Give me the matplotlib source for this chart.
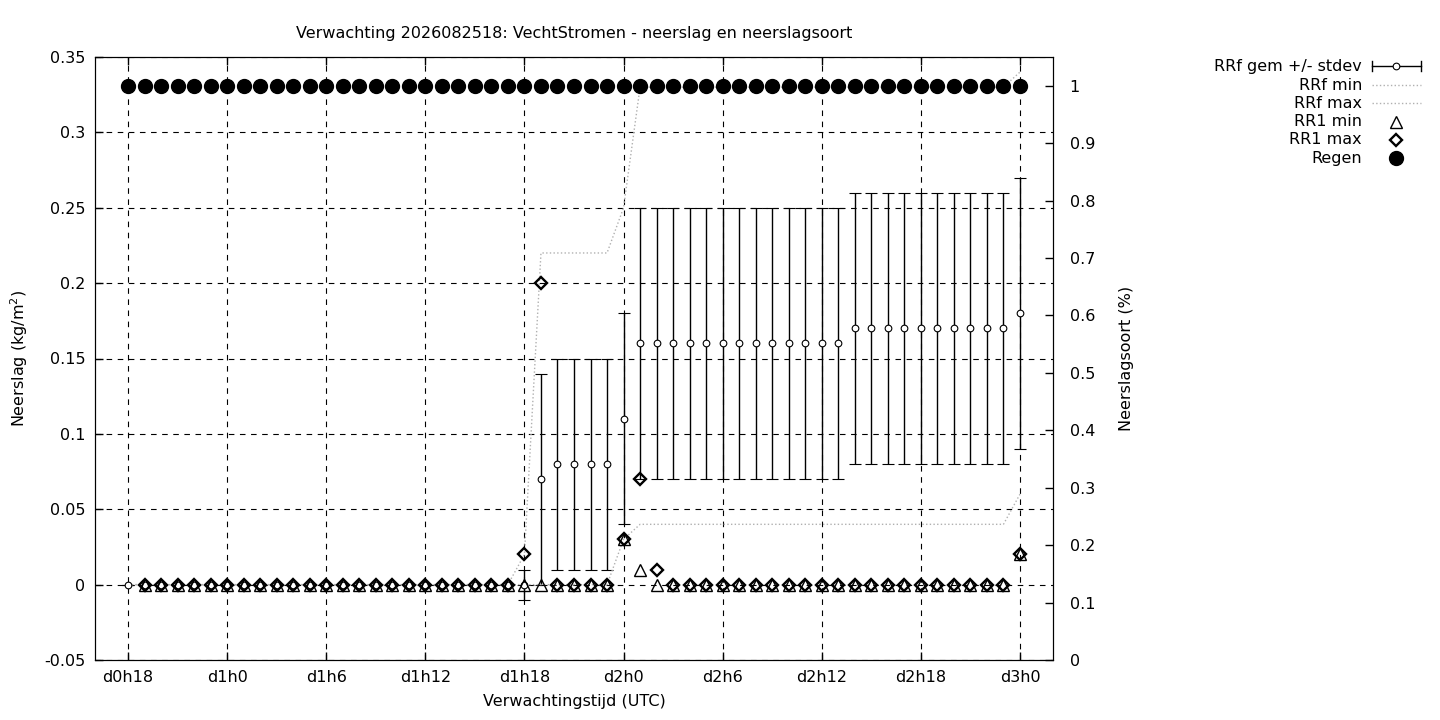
import matplotlib
matplotlib.use("Agg")
import matplotlib.pyplot as plt
from matplotlib.lines import Line2D

# uren vanaf d0h18
hours = list(range(55))
tick_hours = [0, 6, 12, 18, 24, 30, 36, 42, 48, 54]
tick_labels = ["d0h18", "d1h0", "d1h6", "d1h12", "d1h18",
               "d2h0", "d2h6", "d2h12", "d2h18", "d3h0"]

# RRf gem +/- stdev
rrf_mean = [0.0] * 24 + [0.0, 0.07] + [0.08] * 4 + [0.11] + [0.16] * 13 + [0.17] * 10 + [0.18]
rrf_std = [0.0] * 24 + [0.01, 0.07] + [0.07] * 4 + [0.07] + [0.09] * 13 + [0.09] * 10 + [0.09]

# RRf min / max (stippellijnen)
rrf_min = [0.0] * 30 + [0.03] + [0.04] * 23 + [0.06]
rrf_max = [0.0] * 24 + [0.02] + [0.22] * 5 + [0.25] + [0.33] * 23 + [0.34]

# RR1 min / max (vanaf uur 1)
rr1_hours = hours[1:]
rr1_min = [0.0] * 29 + [0.03, 0.01] + [0.0] * 22 + [0.02]
rr1_max = [0.0] * 23 + [0.02, 0.2] + [0.0] * 4 + [0.03, 0.07, 0.01] + [0.0] * 21 + [0.02]

# neerslagsoort: regen
regen = [1.0] * 55

FS = 11.5
W, H = 1440, 720
fig = plt.figure(figsize=(W / 100, H / 100), dpi=100)
ax = fig.add_axes([95 / W, 60 / H, 958 / W, 603 / H])

ax.errorbar(hours, rrf_mean, yerr=rrf_std, fmt='o', color='black', mfc='white',
            ms=4.8, mew=0.8, elinewidth=1, capsize=4.3, capthick=1, zorder=3)
ax.plot(hours, rrf_min, ls=':', color='#b0b0b0', lw=1, zorder=3)
ax.plot(hours, rrf_max, ls=':', color='#b0b0b0', lw=1, zorder=3)
ax.plot(rr1_hours, rr1_min, ls='none', marker='^', mfc='none', mec='black',
        ms=8, mew=1, zorder=4)
ax.plot(rr1_hours, rr1_max, ls='none', marker='D', mfc='none', mec='black',
        ms=6, mew=1.7, zorder=4)

ax.set_xlim(-2, 56)
ax.set_ylim(-0.05, 0.35)
ax.set_xticks(tick_hours)
ax.set_xticklabels(tick_labels)
ax.set_yticks([-0.05, 0, 0.05, 0.1, 0.15, 0.2, 0.25, 0.3, 0.35])
ax.set_yticklabels(["-0.05", "0", "0.05", "0.1", "0.15", "0.2", "0.25", "0.3", "0.35"])
ax.tick_params(direction='in', length=6, width=1, labelsize=FS, top=True, right=True, pad=7)
ax.grid(True, color='black', ls=(0, (5, 5)), lw=0.8)
ax.set_xlabel("Verwachtingstijd (UTC)", fontsize=FS, labelpad=7)
ax.set_ylabel("Neerslag (kg/m$^2$)", fontsize=FS, labelpad=10)
ax.set_title("Verwachting 2026082518: VechtStromen - neerslag en neerslagsoort",
             fontsize=FS, pad=14)

ax2 = ax.twinx()
ax2.plot(hours, regen, ls='none', marker='o', color='black', ms=10, zorder=5)
ax2.set_ylim(0, 1.05)
ax2.set_yticks([0, 0.1, 0.2, 0.3, 0.4, 0.5, 0.6, 0.7, 0.8, 0.9, 1.0])
ax2.set_yticklabels(["0", "0.1", "0.2", "0.3", "0.4", "0.5", "0.6", "0.7", "0.8", "0.9", "1"])
ax2.tick_params(direction='in', length=6, width=1, labelsize=FS, pad=12)
ax2.set_ylabel("Neerslagsoort (%)", fontsize=FS, labelpad=17)

# legenda rechtsboven, buiten de grafiek
def fx(px):
    return px / W

def fy(py):
    return 1 - py / H

labels = ["RRf gem +/- stdev", "RRf min", "RRf max", "RR1 min", "RR1 max", "Regen"]
rows = [66, 85, 103, 122, 140, 158]
for lab, r in zip(labels, rows):
    fig.text(fx(1362), fy(r), lab, ha='right', va='center', fontsize=FS)

y = fy(rows[0])
fig.add_artist(Line2D([fx(1372), fx(1421)], [y, y], transform=fig.transFigure, color='black', lw=1))
for xe in (1372, 1421):
    fig.add_artist(Line2D([fx(xe), fx(xe)], [fy(rows[0] - 5), fy(rows[0] + 5)],
                          transform=fig.transFigure, color='black', lw=1))
fig.add_artist(Line2D([fx(1396)], [y], transform=fig.transFigure, marker='o', mfc='white',
                      mec='black', ms=4.8, mew=0.8, ls='none'))
for r in rows[1:3]:
    fig.add_artist(Line2D([fx(1372), fx(1421)], [fy(r), fy(r)], transform=fig.transFigure,
                          ls=':', color='#b0b0b0', lw=1))
fig.add_artist(Line2D([fx(1396)], [fy(rows[3])], transform=fig.transFigure, marker='^',
                      mfc='none', mec='black', ms=8, mew=1, ls='none'))
fig.add_artist(Line2D([fx(1396)], [fy(rows[4])], transform=fig.transFigure, marker='D',
                      mfc='none', mec='black', ms=6, mew=1.7, ls='none'))
fig.add_artist(Line2D([fx(1396)], [fy(rows[5])], transform=fig.transFigure, marker='o',
                      color='black', ms=10, ls='none'))

fig.savefig("out.png", dpi=100)
